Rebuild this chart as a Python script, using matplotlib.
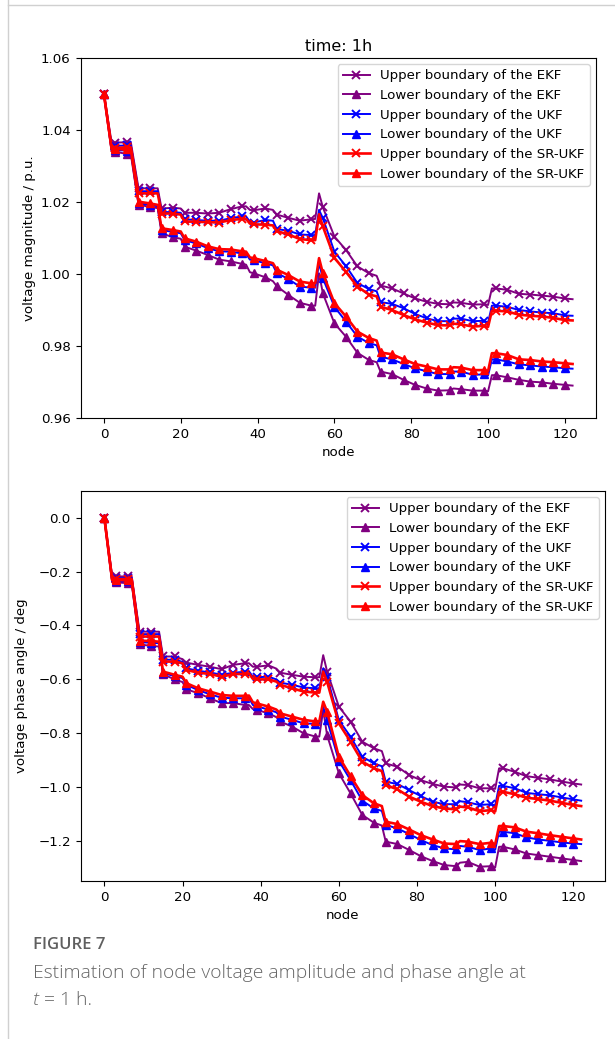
import matplotlib
matplotlib.use("Agg")
import matplotlib.pyplot as plt
from matplotlib.lines import Line2D

# ---------------- data ----------------
nodes = [0, 2, 3, 6, 7, 9, 12, 14, 15, 18, 20, 21, 24, 27, 30, 33, 36, 37, 38, 39,
         42, 44, 45, 48, 51, 54, 55, 56, 57, 60, 63, 66, 69, 71, 72, 75, 78, 81, 84, 87,
         90, 91, 93, 96, 99, 100, 101, 102, 105, 108, 111, 114, 117, 120, 122]

mag_ekf_up = [1.050, 1.0365, 1.0365, 1.0366, 1.0366, 1.0238, 1.0238, 1.0238, 1.0182, 1.0184,
              1.0182, 1.0170, 1.0170, 1.0168, 1.0170, 1.0180, 1.0188, 1.0188, 1.0178, 1.0177,
              1.0182, 1.0178, 1.0165, 1.0156, 1.0148, 1.0152, 1.0153, 1.0224, 1.0185, 1.0104,
              1.0067, 1.0021, 1.0002, 0.9995, 0.9968, 0.9960, 0.9946, 0.9932, 0.9923, 0.9917,
              0.9916, 0.9921, 0.9920, 0.9915, 0.9916, 0.9914, 0.9960, 0.9960, 0.9956, 0.9945,
              0.9943, 0.9940, 0.9937, 0.9932, 0.9930]
mag_ekf_lo = [1.050, 1.0340, 1.0340, 1.0333, 1.0333, 1.0193, 1.0186, 1.0183, 1.0113, 1.0102,
              1.0098, 1.0076, 1.0065, 1.0053, 1.0040, 1.0035, 1.0028, 1.0026, 1.0005, 1.0002,
              0.9991, 0.9980, 0.9966, 0.9942, 0.9920, 0.9912, 0.9912, 1.0002, 0.9946, 0.9863,
              0.9826, 0.9781, 0.9761, 0.9755, 0.9729, 0.9722, 0.9706, 0.9692, 0.9682, 0.9676,
              0.9677, 0.9682, 0.9680, 0.9676, 0.9676, 0.9674, 0.9719, 0.9719, 0.9713, 0.9706,
              0.9701, 0.9699, 0.9695, 0.9692, 0.9690]
mag_ukf_up = [1.050, 1.0355, 1.0356, 1.0357, 1.0357, 1.0230, 1.0230, 1.0230, 1.0172, 1.0172,
              1.0170, 1.0152, 1.0150, 1.0148, 1.0148, 1.0155, 1.0160, 1.0160, 1.0145, 1.0143,
              1.0150, 1.0148, 1.0125, 1.0120, 1.0110, 1.0108, 1.0108, 1.0178, 1.0155, 1.0062,
              1.0022, 0.9975, 0.9958, 0.9952, 0.9922, 0.9917, 0.9905, 0.9889, 0.9877, 0.9869,
              0.9869, 0.9876, 0.9876, 0.9869, 0.9870, 0.9865, 0.9912, 0.9912, 0.9909, 0.9900,
              0.9896, 0.9893, 0.9891, 0.9885, 0.9884]
mag_ukf_lo = [1.050, 1.0344, 1.0344, 1.0343, 1.0343, 1.0196, 1.0192, 1.0188, 1.0122, 1.0117,
              1.0113, 1.0094, 1.0085, 1.0072, 1.0063, 1.0062, 1.0057, 1.0056, 1.0040, 1.0038,
              1.0030, 1.0024, 1.0003, 0.9986, 0.9965, 0.9962, 0.9962, 1.0030, 0.9988, 0.9909,
              0.9868, 0.9826, 0.9808, 0.9802, 0.9770, 0.9763, 0.9750, 0.9738, 0.9730, 0.9722,
              0.9722, 0.9729, 0.9729, 0.9720, 0.9721, 0.9718, 0.9763, 0.9763, 0.9757, 0.9749,
              0.9746, 0.9743, 0.9741, 0.9738, 0.9737]
mag_sr_up = [1.050, 1.0350, 1.0350, 1.0352, 1.0352, 1.0224, 1.0224, 1.0224, 1.0168, 1.0168,
             1.0165, 1.0146, 1.0145, 1.0144, 1.0143, 1.0150, 1.0153, 1.0153, 1.0140, 1.0138,
             1.0137, 1.0135, 1.0119, 1.0110, 1.0097, 1.0094, 1.0094, 1.0166, 1.0132, 1.0045,
             1.0006, 0.9965, 0.9943, 0.9938, 0.9909, 0.9900, 0.9886, 0.9874, 0.9865, 0.9858,
             0.9857, 0.9862, 0.9860, 0.9854, 0.9856, 0.9853, 0.9898, 0.9898, 0.9896, 0.9887,
             0.9884, 0.9882, 0.9878, 0.9872, 0.9871]
mag_sr_lo = [1.050, 1.0347, 1.0347, 1.0346, 1.0346, 1.0201, 1.0196, 1.0192, 1.0127, 1.0122,
             1.0118, 1.0099, 1.0090, 1.0077, 1.0069, 1.0068, 1.0063, 1.0062, 1.0046, 1.0044,
             1.0036, 1.0030, 1.0012, 0.9997, 0.9979, 0.9974, 0.9974, 1.0044, 1.0002, 0.9919,
             0.9882, 0.9840, 0.9822, 0.9815, 0.9782, 0.9777, 0.9763, 0.9750, 0.9743, 0.9735,
             0.9735, 0.9741, 0.9740, 0.9733, 0.9733, 0.9730, 0.9780, 0.9780, 0.9775, 0.9763,
             0.9761, 0.9757, 0.9755, 0.9752, 0.9750]

ang_ekf_up = [0.0, -0.218, -0.218, -0.218, -0.218, -0.423, -0.423, -0.423, -0.515, -0.515,
              -0.525, -0.538, -0.546, -0.553, -0.562, -0.546, -0.540, -0.540, -0.553, -0.553,
              -0.548, -0.560, -0.575, -0.583, -0.590, -0.592, -0.592, -0.510, -0.571, -0.701,
              -0.757, -0.831, -0.856, -0.866, -0.912, -0.924, -0.955, -0.974, -0.988, -0.998,
              -1.001, -0.990, -0.992, -1.004, -1.004, -1.006, -0.930, -0.930, -0.943, -0.959,
              -0.965, -0.971, -0.979, -0.986, -0.990]
ang_ekf_lo = [0.0, -0.240, -0.240, -0.243, -0.243, -0.470, -0.476, -0.478, -0.581, -0.600,
              -0.610, -0.637, -0.651, -0.670, -0.688, -0.688, -0.695, -0.695, -0.710, -0.713,
              -0.726, -0.740, -0.756, -0.775, -0.800, -0.812, -0.812, -0.714, -0.807, -0.948,
              -1.023, -1.103, -1.132, -1.142, -1.202, -1.211, -1.233, -1.256, -1.274, -1.289,
              -1.293, -1.280, -1.277, -1.295, -1.293, -1.298, -1.221, -1.221, -1.231, -1.246,
              -1.252, -1.258, -1.264, -1.270, -1.274]
ang_ukf_up = [0.0, -0.224, -0.224, -0.224, -0.224, -0.432, -0.432, -0.432, -0.527, -0.527,
              -0.535, -0.559, -0.568, -0.574, -0.583, -0.575, -0.572, -0.570, -0.590, -0.592,
              -0.590, -0.600, -0.612, -0.620, -0.630, -0.633, -0.633, -0.559, -0.590, -0.751,
              -0.813, -0.887, -0.912, -0.922, -0.980, -0.988, -1.011, -1.033, -1.054, -1.063,
              -1.063, -1.052, -1.056, -1.066, -1.063, -1.068, -0.995, -0.995, -1.004, -1.021,
              -1.026, -1.030, -1.038, -1.045, -1.050]
ang_ukf_lo = [0.0, -0.236, -0.236, -0.236, -0.236, -0.462, -0.464, -0.466, -0.576, -0.588,
              -0.595, -0.620, -0.640, -0.655, -0.668, -0.670, -0.670, -0.668, -0.695, -0.700,
              -0.712, -0.722, -0.738, -0.750, -0.763, -0.765, -0.765, -0.701, -0.751, -0.902,
              -0.974, -1.050, -1.079, -1.088, -1.140, -1.153, -1.174, -1.196, -1.215, -1.227,
              -1.231, -1.218, -1.221, -1.233, -1.227, -1.232, -1.165, -1.165, -1.171, -1.186,
              -1.194, -1.199, -1.205, -1.209, -1.211]
ang_sr_up = [0.0, -0.228, -0.228, -0.228, -0.228, -0.441, -0.441, -0.441, -0.534, -0.534,
             -0.540, -0.565, -0.575, -0.580, -0.590, -0.580, -0.580, -0.578, -0.598, -0.600,
             -0.600, -0.608, -0.620, -0.633, -0.645, -0.649, -0.649, -0.571, -0.609, -0.763,
             -0.831, -0.905, -0.930, -0.940, -0.992, -1.008, -1.035, -1.054, -1.070, -1.079,
             -1.082, -1.072, -1.075, -1.089, -1.085, -1.090, -1.017, -1.017, -1.026, -1.039,
             -1.044, -1.050, -1.058, -1.066, -1.070]
ang_sr_lo = [0.0, -0.232, -0.232, -0.232, -0.232, -0.456, -0.458, -0.460, -0.571, -0.583,
             -0.590, -0.614, -0.633, -0.645, -0.658, -0.661, -0.661, -0.660, -0.685, -0.689,
             -0.701, -0.712, -0.726, -0.738, -0.750, -0.756, -0.756, -0.683, -0.720, -0.887,
             -0.959, -1.029, -1.060, -1.070, -1.128, -1.137, -1.157, -1.178, -1.194, -1.209,
             -1.211, -1.200, -1.202, -1.211, -1.206, -1.212, -1.144, -1.144, -1.149, -1.165,
             -1.171, -1.178, -1.184, -1.190, -1.194]

labels = ["Upper boundary of the EKF", "Lower boundary of the EKF",
          "Upper boundary of the UKF", "Lower boundary of the UKF",
          "Upper boundary of the SR-UKF", "Lower boundary of the SR-UKF"]

mag_ticks = [0.96, 0.98, 1.00, 1.02, 1.04, 1.06]
ang_ticks = [0.0, -0.2, -0.4, -0.6, -0.8, -1.0, -1.2]
x_ticks = [0, 20, 40, 60, 80, 100, 120]

# ---------------- style ----------------
W, H = 615, 1039
plt.rcParams['font.family'] = ['DejaVu Sans']
FS = 9.6
fig = plt.figure(figsize=(W / 100, H / 100), dpi=100)

colors = ['purple', 'purple', 'blue', 'blue', 'red', 'red']
markers = ['x', '^', 'x', '^', 'x', '^']
lws = [1.4, 1.4, 1.4, 1.4, 1.9, 1.9]
mev = [i for i, n in enumerate(nodes) if n % 3 == 0]


def px_axes(l, r, t, b):
    return fig.add_axes([l / W, 1 - b / H, (r - l) / W, (b - t) / H])


def draw(ax, series):
    for s, c, m, lw, lab in zip(series, colors, markers, lws, labels):
        ax.plot(nodes, s, color=c, marker=m, markevery=mev, markersize=6,
                lw=lw, label=lab, mew=1.4 if m == 'x' else 1.0)
    ax.set_xlim(-6.1, 128.1)
    ax.set_xticks(x_ticks)
    ax.tick_params(labelsize=FS)
    ax.set_xlabel("node", fontsize=FS)
    ax.legend(loc='upper right', fontsize=FS, borderaxespad=0.45)


ax1 = px_axes(80.5, 596, 58, 418)
draw(ax1, [mag_ekf_up, mag_ekf_lo, mag_ukf_up, mag_ukf_lo, mag_sr_up, mag_sr_lo])
ax1.set_ylim(0.96, 1.06)
ax1.set_yticks(mag_ticks)
ax1.set_yticklabels([f"{v:.2f}" for v in mag_ticks])
ax1.set_ylabel("voltage magnitude / p.u.", fontsize=FS)
ax1.set_title("time: 1h", fontsize=11.5, pad=5)

ax2 = px_axes(80.5, 605, 491, 881)
draw(ax2, [ang_ekf_up, ang_ekf_lo, ang_ukf_up, ang_ukf_lo, ang_sr_up, ang_sr_lo])
ax2.set_ylim(-1.348, 0.099)
ax2.set_yticks(ang_ticks)
ax2.set_yticklabels([f"{v:.1f}".replace("-", "\u2212") for v in ang_ticks])
ax2.set_ylabel("voltage phase angle / deg", fontsize=FS)

for ax, xr in ((ax1, 36), (ax2, 28)):
    ax.yaxis.set_label_coords(-(80.5 - xr) / (ax.get_position().width * W), 0.5)

# page frame lines
fig.add_artist(Line2D([7.5 / W, 7.5 / W], [0, 1], color='#d0d0d0', lw=1.0))
fig.add_artist(Line2D([7.5 / W, 1], [1 - 5 / H, 1 - 5 / H], color='#d0d0d0', lw=1.0))

# caption
cap_font = ['Open Sans', 'DejaVu Sans']
fig.text(33 / W, 1 - 945 / H, "FIGURE 7", fontsize=12, color='#5f5f5f',
         family=cap_font, fontweight='semibold', va='center', ha='left')
fig.text(33 / W, 1 - 973 / H, "Estimation of node voltage amplitude and phase angle at",
         fontsize=13.9, color='#666666', family=cap_font, fontweight='light',
         va='center', ha='left')
fig.text(33 / W, 1 - 1000 / H, "t", fontsize=13.9, color='#666666', family=cap_font,
         fontweight='light', style='italic', va='center', ha='left')
fig.text(44 / W, 1 - 1000 / H, "= 1 h.", fontsize=13.9, color='#666666', family=cap_font,
         fontweight='light', va='center', ha='left')

fig.savefig("out.png", dpi=100)
